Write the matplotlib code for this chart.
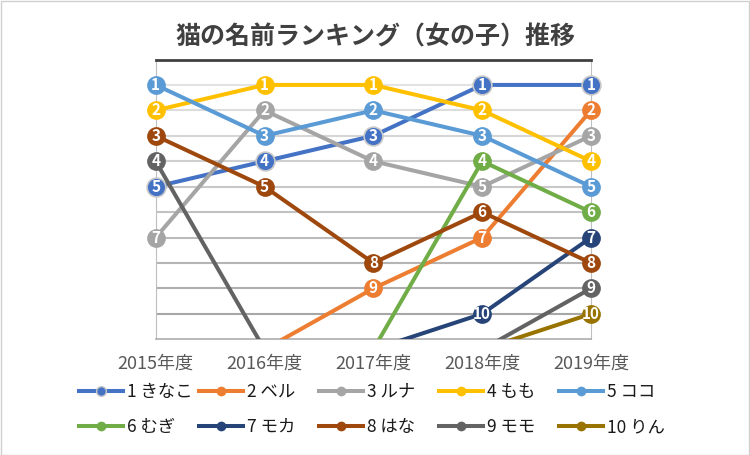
import matplotlib
matplotlib.use("Agg")
import matplotlib.pyplot as plt
from matplotlib.lines import Line2D
from matplotlib.patches import Rectangle

plt.rcParams['font.family'] = ['Noto Sans CJK JP', 'DejaVu Sans']

# 年度
years = ['2015年度', '2016年度', '2017年度', '2018年度', '2019年度']

# 各名前の順位 (11.4 = 圏外、グラフの下にはみ出す)
kinako = [5, 4, 3, 1, 1]
beru = [11.4, 11.4, 9, 7, 2]
runa = [7, 2, 4, 5, 3]
momo = [2, 1, 1, 2, 4]
koko = [1, 3, 2, 3, 5]
mugi = [11.4, 11.4, 11.4, 4, 6]
moka = [11.4, 11.4, 11.4, 10, 7]
hana = [3, 5, 8, 6, 8]
momo2 = [4, 11.4, 11.4, 11.4, 9]
rin = [11.4, 11.4, 11.4, 11.4, 10]

names = ['1 きなこ', '2 ベル', '3 ルナ', '4 もも', '5 ココ',
         '6 むぎ', '7 モカ', '8 はな', '9 モモ', '10 りん']
series = [kinako, beru, runa, momo, koko, mugi, moka, hana, momo2, rin]
colors = ['#4472C4', '#ED7D31', '#A5A5A5', '#FFC000', '#5B9BD5',
          '#70AD47', '#264478', '#9E480E', '#636363', '#997300']

fig = plt.figure(figsize=(7.5, 4.55), dpi=100)
ax = fig.add_axes([155.7 / 750, 1 - 339.3 / 455, (591 - 155.7) / 750, (339.3 - 59.5) / 455])

x = list(range(len(years)))

# 横線 (下に行くほど濃い)
for r in range(1, 11):
    g = 0.89 - (r - 1) * 0.026
    ax.axhline(r, color=(g, g, g), lw=1.5, zorder=1)

handles = []
for i, (vals, col) in enumerate(zip(series, colors)):
    z = 3 + i
    ax.plot(x, vals, color=col, lw=2.9, zorder=z, solid_capstyle='round')
    px = [xx for xx, v in zip(x, vals) if v <= 10]
    py = [v for v in vals if v <= 10]
    ec = '#c8c8c8' if i == 0 else col
    ax.plot(px, py, ls='none', marker='o', ms=13.5, mfc=col, mec=ec,
            mew=1.2 if i == 0 else 0, zorder=z, clip_on=False)
    for xx, v in zip(px, py):
        ax.text(xx, v, str(int(v)), color='white', fontsize=11, fontweight='bold',
                ha='center', va='center', zorder=30, clip_on=False)
    handles.append(Line2D([], [], color=col, lw=2.9, marker='o', ms=7,
                          mfc=col, mec=ec, mew=1 if i == 0 else 0))

ax.set_xlim(0, 4)
ax.set_ylim(11, 0)
ax.set_yticks([])
ax.set_xticks(x)
ax.set_xticklabels(years, fontsize=13, color='#595959')
ax.tick_params(axis='x', length=0, pad=11)

ax.spines['top'].set_color('#404040')
ax.spines['top'].set_linewidth(2)
ax.spines['left'].set_color('#bfbfbf')
ax.spines['left'].set_linewidth(0.8)
ax.spines['right'].set_color('#bfbfbf')
ax.spines['right'].set_linewidth(0.8)
ax.spines['bottom'].set_color('#a6a6a6')
ax.spines['bottom'].set_linewidth(1.1)

fig.text(0.5, 1 - 37 / 455, '猫の名前ランキング（女の子）推移', ha='center', va='center',
         fontsize=18, fontweight='bold', color='#404040')

# 凡例 (2行5列)
col_x = [79, 199, 319, 439, 559]
row_y = [391.7, 427]
for i, h in enumerate(handles):
    fig.legend(handles=[h], labels=[names[i]], loc='center left',
               bbox_to_anchor=(col_x[i % 5] / 750, 1 - row_y[i // 5] / 455),
               frameon=False, borderpad=0, borderaxespad=0, fontsize=12.5,
               handlelength=2.53, handletextpad=0.25, labelcolor='#1a1a1a')

fig.add_artist(Rectangle((0.5 / 750, 0.5 / 455), 748.5 / 750, 453.5 / 455,
                         transform=fig.transFigure, fill=False, edgecolor='#d0d0d0', lw=1))

fig.savefig('out.png', dpi=100)
